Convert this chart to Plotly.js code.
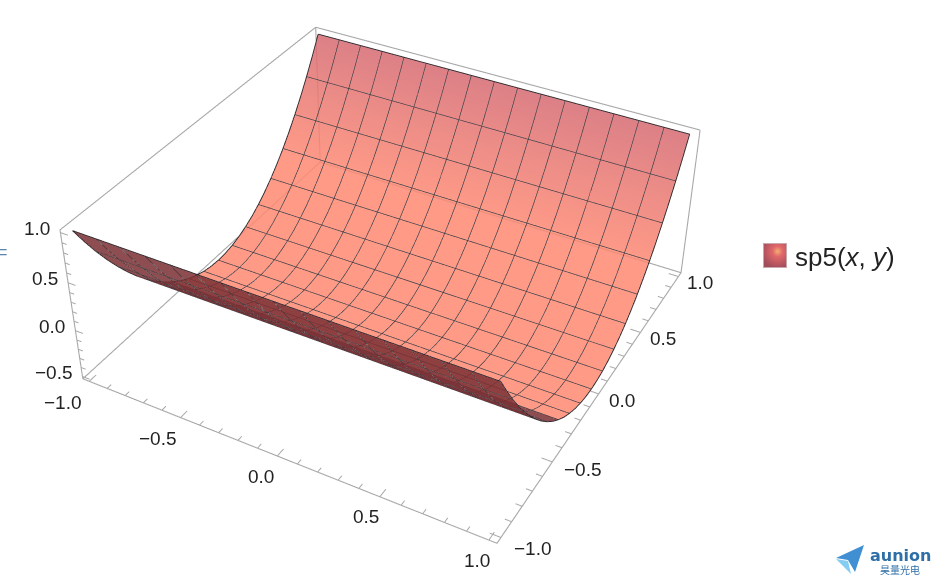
<!DOCTYPE html><html><head><meta charset="utf-8"><script src="https://cdn.plot.ly/plotly-3.0.1.min.js"></script>
<style>html,body{margin:0;padding:0;width:944px;height:585px;overflow:hidden;background:#fff}#g{position:absolute;left:-255px;top:-397px;width:1300px;height:1300px}</style></head><body>
<div id="g"></div>
<script>
// Surface sampled along y, constant along x
const xValues=[-1,-0.875,-0.75,-0.625,-0.5,-0.375,-0.25,-0.125,0,0.125,0.25,0.375,0.5,0.625,0.75,0.875,1];
const yValues=[-1,-0.9375,-0.875,-0.8125,-0.75,-0.6875,-0.625,-0.5625,-0.5,-0.4375,-0.375,-0.3125,-0.25,-0.1875,-0.125,-0.0625,0,0.0625,0.125,0.1875,0.25,0.3125,0.375,0.4375,0.5,0.5625,0.625,0.6875,0.75,0.8125,0.875,0.9375,1];
const zProfile=[1,0.818,0.648,0.49,0.344,0.209,0.086,-0.025,-0.125,-0.213,-0.289,-0.354,-0.406,-0.447,-0.477,-0.494,-0.5,-0.494,-0.477,-0.447,-0.406,-0.354,-0.289,-0.213,-0.125,-0.025,0.086,0.209,0.344,0.49,0.648,0.818,1];
const splitIndex=10; // y index where the visible underside ends
const xRange=[-1.04,1.04],yRange=[-1.04,1.04],zRange=[-0.53,1.03];
const xMajor=[-1,-0.5,0,0.5,1],yMajor=[-1,-0.5,0,0.5,1],zMajor=[-0.5,0,0.5,1];
const xMinor=[-0.9,-0.8,-0.7,-0.6,-0.4,-0.3,-0.2,-0.1,0.1,0.2,0.3,0.4,0.6,0.7,0.8,0.9];
const yMinor=xMinor;
const zMinor=[-0.4,-0.3,-0.2,-0.1,0.1,0.2,0.3,0.4,0.6,0.7,0.8,0.9];
const legendLabel='sp5(<i>x</i>, <i>y</i>)';
const topColor='#d66a72',lowColor='#ff8972',underColor='#7a2f33',meshColor='#4a3c40',boxColor='#a8a8a8';
const W=1300,L=255,T=397;
const px=v=>(v+L)/W,py=v=>1-(v+T)/W;
const grid=(ys,zs)=>zs.map(z=>xValues.map(()=>z));
const noLight={ambient:1,diffuse:0,specular:0,roughness:1,fresnel:0};
const surfBase={type:'surface',x:xValues,showscale:false,hoverinfo:'skip',lighting:noLight,cmin:-0.5,cmax:1,contours:{x:{highlight:false},y:{highlight:false},z:{highlight:false}}};
const yUnder=yValues.slice(0,splitIndex+1),zUnder=zProfile.slice(0,splitIndex+1);
const yOver=yValues.slice(splitIndex),zOver=zProfile.slice(splitIndex);
const traces=[
 Object.assign({},surfBase,{y:yOver,z:grid(yOver,zOver),opacity:0.85,colorscale:[[0,lowColor],[0.35,lowColor],[1,topColor]]}),
 Object.assign({},surfBase,{y:yUnder,z:grid(yUnder,zUnder),opacity:0.85,colorscale:[[0,underColor],[1,underColor]]})
];
function seg(list,color,width){const x=[],y=[],z=[];list.forEach(s=>{x.push(s[0][0],s[1][0],null);y.push(s[0][1],s[1][1],null);z.push(s[0][2],s[1][2],null);});
 return {type:'scatter3d',mode:'lines',x,y,z,line:{color,width},hoverinfo:'skip',showlegend:false};}
const eps=0.004; // keep box lines just inside the clip volume
const x0=xRange[0]+eps,x1=xRange[1]-eps,y0=yRange[0]+eps,y1=yRange[1]-eps,z0=zRange[0]+eps,z1=zRange[1]-eps;
const edges=[[[x0,y0,z0],[x1,y0,z0]],[[x1,y0,z0],[x1,y1,z0]],[[x0,y0,z0],[x0,y1,z0]],[[x0,y1,z0],[x1,y1,z0]],
 [[x0,y0,z0],[x0,y0,z1]],[[x0,y1,z0],[x0,y1,z1]],[[x1,y1,z0],[x1,y1,z1]],[[x0,y0,z1],[x0,y1,z1]],[[x0,y1,z1],[x1,y1,z1]]];
const ticks=[];
xMajor.forEach(v=>ticks.push([[v,y0,z0],[v,y0+0.05,z0]]));xMinor.forEach(v=>ticks.push([[v,y0,z0],[v,y0+0.03,z0]]));
yMajor.forEach(v=>ticks.push([[x1,v,z0],[x1-0.05,v,z0]]));yMinor.forEach(v=>ticks.push([[x1,v,z0],[x1-0.03,v,z0]]));
zMajor.forEach(v=>ticks.push([[x0,y0,v],[x0+0.04,y0,v]]));zMinor.forEach(v=>ticks.push([[x0,y0,v],[x0+0.025,y0,v]]));
traces.push(seg(edges,boxColor,2.2),seg(ticks,boxColor,2));
// mesh lines and boundary from the same samples as the surface
function polyTrace(color,width){const t={type:'scatter3d',mode:'lines',x:[],y:[],z:[],line:{color,width},hoverinfo:'skip',showlegend:false};
 t.add=(xs,ys,zs)=>{t.x.push(...xs,null);t.y.push(...ys,null);t.z.push(...zs,null);};return t;}
const meshT=polyTrace(meshColor,1.7),bndT=polyTrace('#33282c',2);
xValues.forEach((xv,i)=>{if(i>0&&i<xValues.length-1)meshT.add(yValues.map(()=>xv),yValues,zProfile);});
yValues.forEach((yv,j)=>{if(j%2===0&&j>0&&j<yValues.length-1)meshT.add(xValues,xValues.map(()=>yv),xValues.map(()=>zProfile[j]));});
const last=yValues.length-1,xl=xValues.length-1;
bndT.add(yValues.map(()=>xValues[0]),yValues,zProfile);
bndT.add(yValues.map(()=>xValues[xl]),yValues,zProfile);
bndT.add(xValues,xValues.map(()=>yValues[0]),xValues.map(()=>zProfile[0]));
bndT.add(xValues,xValues.map(()=>yValues[last]),xValues.map(()=>zProfile[last]));
[meshT,bndT].forEach(t=>{delete t.add;traces.push(t);});
const ax=(range)=>({range,showticklabels:false,ticks:'',showline:false,showgrid:false,zeroline:false,showbackground:false,showspikes:false,title:{text:''}});
const fmt=v=>(v<0?'\u2212':'')+Math.abs(v).toFixed(1);
const tickFont={family:'Liberation Sans',size:19,color:'#222'};
const lab=(x,y,z,v,sx,sy)=>({x,y,z,text:fmt(v),showarrow:false,xanchor:'center',yanchor:'middle',xshift:sx,yshift:-sy,font:tickFont});
const xShift=[[-26,20],[-22,20],[-16,20],[-13,19],[-11,19]];
const yShift=[[31,10],[30,7],[23,6],[22,5],[21,5]];
const zShift=[[-27,-4],[-22,-4],[-22,-4],[-22,-4]];
const sceneAnn=[
 ...xMajor.map((v,i)=>lab(v,yRange[0],zRange[0],v,...xShift[i])),
 ...yMajor.map((v,i)=>lab(xRange[1],v,zRange[0],v,...yShift[i])),
 ...zMajor.map((v,i)=>lab(xRange[0],yRange[0],v,v,...zShift[i]))];
const swatch='data:image/svg+xml;utf8,'+encodeURIComponent('<svg xmlns="http://www.w3.org/2000/svg" width="24" height="25"><defs><radialGradient id="a" cx="0.62" cy="0.32" r="0.75"><stop offset="0" stop-color="#f2b070"/><stop offset="0.3" stop-color="#e2686a"/><stop offset="1" stop-color="#a04c5a"/></radialGradient></defs><rect width="24" height="25" fill="#c8a8ac"/><rect x="1" y="1" width="22" height="23" fill="url(#a)"/></svg>');
const layout={width:W,height:W,margin:{l:0,r:0,t:0,b:0},paper_bgcolor:'#fff',showlegend:false,
 scene:{domain:{x:[0,1],y:[0,1]},aspectmode:'manual',aspectratio:{x:1,y:0.9949,z:0.3963},
  camera:{eye:{x:1.3477,y:-2.4314,z:2.0211},center:{x:0,y:0,z:0},up:{x:0,y:0,z:1},projection:{type:'perspective'}},
  xaxis:ax(xRange),yaxis:ax(yRange),zaxis:ax(zRange),annotations:sceneAnn},
 annotations:[
  {xref:'paper',yref:'paper',x:px(795),y:py(257),xanchor:'left',yanchor:'middle',text:legendLabel,showarrow:false,font:{family:'Liberation Sans',size:26,color:'#222'},xshift:-2},
  {xref:'paper',yref:'paper',x:px(-5),y:py(252),xanchor:'left',yanchor:'middle',text:'=',showarrow:false,font:{family:'Liberation Sans',size:18,color:'#5b84b1'}},
  {xref:'paper',yref:'paper',x:px(868),y:py(555),xanchor:'left',yanchor:'middle',text:'<b>aunion</b>',showarrow:false,font:{family:'DejaVu Sans',size:16,color:'#2f6fa8'}},
  {xref:'paper',yref:'paper',x:px(878),y:py(569),xanchor:'left',yanchor:'middle',text:'昊量光电',showarrow:false,font:{family:'Noto Sans CJK SC',size:10,color:'#2f6fa8'}}
 ],
 images:[{source:swatch,xref:'paper',yref:'paper',x:px(763),y:py(243),sizex:24/W,sizey:25/W,xanchor:'left',yanchor:'top',sizing:'stretch',layer:'above'}],
 shapes:[
  {type:'path',xref:'paper',yref:'paper',path:`M${px(836)},${py(558)}L${px(864)},${py(545)}L${px(855)},${py(572)}L${px(848)},${py(560)}Z`,fillcolor:'#3f8fd2',line:{width:0}},
  {type:'path',xref:'paper',yref:'paper',path:`M${px(836)},${py(559)}L${px(848)},${py(561)}L${px(851)},${py(574)}Z`,fillcolor:'#86cdf2',line:{width:0}}
 ]};
Plotly.newPlot('g',traces,layout,{displayModeBar:false,responsive:false});
</script></body></html>
